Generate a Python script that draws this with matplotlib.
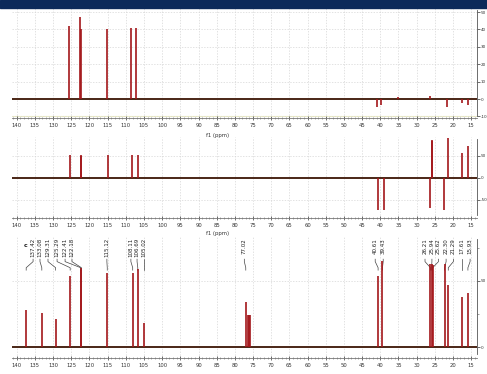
import matplotlib
matplotlib.use('Agg')
import matplotlib.pyplot as plt
from matplotlib.patches import Rectangle
from matplotlib.ticker import MultipleLocator
import matplotlib.transforms as mtransforms

plt.rcParams['axes.unicode_minus'] = False

# peak lists (ppm, intensity)
dept90_ppm = [125.6, 122.6, 122.4, 115.2, 108.6, 107.2, 40.9, 39.8, 35.1, 26.3, 21.7, 17.5, 15.9]
dept90_int = [42, 47, 40, 40, 41, 41, -4.6, -3.5, 1.0, 1.5, -4.6, -2.3, -3.5]

dept135_ppm = [125.3, 122.4, 122.2, 115.0, 108.3, 106.7, 40.5, 39.0, 25.9, 25.7, 26.3, 22.4, 21.3, 17.6, 15.8]
dept135_int = [52, 52, 50, 52, 52, 52, -73, -73, 86, 84, -68, -73, 91, 57, 73]

c13_ppm = [137.4, 133.1, 129.3, 125.3, 122.4, 122.2, 115.1, 108.1, 106.7, 105.0,
           77.0, 76.3, 76.0, 75.7, 40.6, 39.4, 26.2, 25.9, 25.6, 22.3, 21.3, 17.6, 15.9]
c13_int = [28, 26, 21, 54, 60, 58, 56, 56, 59, 18,
           34, 24, 24, 24, 54, 65, 63, 63, 62, 63, 47, 38, 41]

# peak labels on the 13C spectrum
label_text = ['137.42', '133.08', '129.31', '125.29', '122.41', '122.18', '115.12',
              '108.11', '106.69', '105.02', '77.02', '40.61', '39.43',
              '26.21', '25.94', '25.62', '22.30', '21.29', '17.61', '15.93']
label_peak = [137.4, 133.1, 129.3, 125.3, 122.4, 122.2, 115.1,
              108.1, 106.7, 105.0, 77.0, 40.6, 39.4,
              26.2, 25.9, 25.6, 22.3, 21.3, 17.6, 15.9]
# where the label columns sit (ppm)
label_pos = [135.5, 133.6, 131.4, 128.9, 126.7, 124.8, 115.2,
             108.6, 106.9, 105.0, 77.4, 41.4, 39.2,
             27.7, 25.8, 24.0, 21.9, 19.9, 17.6, 15.3]

x_ticks = list(range(140, 10, -5))

W, H = 487, 374
fig = plt.figure(figsize=(W / 100, H / 100), dpi=100)
fig.patches.append(Rectangle((0, 1 - 8 / H), 1, 8 / H, transform=fig.transFigure,
                             color='#0c2a5a', zorder=10))

left, right = 12 / W, 477 / W
XMIN, XMAX = 141.3, 13.4
peak_col = '#a3161a'
base_col = '#4a2616'


def make_panel(top_px, bot_px, ylim, yticks, ybounds):
    ax = fig.add_axes([left, 1 - bot_px / H, right - left, (bot_px - top_px) / H])
    ax.set_xlim(XMIN, XMAX)
    ax.set_ylim(*ylim)
    for s in ['top', 'left']:
        ax.spines[s].set_visible(False)
    ax.spines['bottom'].set_color('#777777')
    ax.spines['bottom'].set_linewidth(0.6)
    ax.spines['right'].set_color('#555555')
    ax.spines['right'].set_linewidth(0.6)
    ax.spines['right'].set_bounds(*ybounds)
    ax.yaxis.tick_right()
    ax.set_yticks(yticks)
    ax.set_yticklabels([str(t) for t in yticks])
    ax.tick_params(axis='y', labelsize=3, length=2, width=0.5, pad=0.8, colors='#333333')
    ax.set_xticks(x_ticks)
    ax.set_xticklabels([str(t) for t in x_ticks])
    ax.xaxis.set_minor_locator(MultipleLocator(1))
    ax.tick_params(axis='x', which='major', labelsize=3.8, length=2.5, width=0.5,
                   direction='inout', pad=2.5, colors='#333333')
    ax.tick_params(axis='x', which='minor', length=1.2, width=0.4, direction='inout',
                   colors='#666666')
    ax.grid(True, which='major', color='#d6d6d6', linestyle=(0, (2, 2)), linewidth=0.5)
    ax.set_facecolor('white')
    return ax


ax1 = make_panel(8, 118, (-10.9, 52.3), [-10, 0, 10, 20, 30, 40, 50], (-10, 51))
ax1.axhline(-9.8, color='#eeeec0', linewidth=0.8, zorder=1)
ax1.axhline(0, color=base_col, linewidth=1.4, zorder=3)
ax1.vlines(dept90_ppm, 0, dept90_int, color=peak_col, linewidth=1.2, zorder=4)

ax2 = make_panel(137, 218, (-91, 93), [-50, 0, 50], (-85, 88))
ax2.axhline(0, color=base_col, linewidth=1.4, zorder=3)
ax2.vlines(dept135_ppm, 0, dept135_int, color=peak_col, linewidth=1.2, zorder=4)

ax3 = make_panel(236, 358, (-8.3, 84), [0, 50], (-5, 82))
ax3.yaxis.set_minor_locator(MultipleLocator(25))
ax3.tick_params(axis='y', which='minor', length=1.5, width=0.4, colors='#555555')
ax3.axhline(0, color=base_col, linewidth=1.4, zorder=3)
ax3.vlines(c13_ppm, 0, c13_int, color=peak_col, linewidth=1.2, zorder=4)

# f1 (ppm) captions
fig.text(218 / W, 1 - 135 / H, 'f1 (ppm)', fontsize=3.8, ha='center', va='center', color='#333333')
fig.text(218 / W, 1 - 233 / H, 'f1 (ppm)', fontsize=3.8, ha='center', va='center', color='#333333')

# peak labels with leader lines
trans = mtransforms.blended_transform_factory(ax3.transData, ax3.transAxes)
for txt, xp, xl in zip(label_text, label_peak, label_pos):
    ax3.text(xl, 0.985, txt, rotation=90, fontsize=4.0, ha='center', va='top',
             transform=trans, color='#222222')
    ax3.plot([xl, xl, xp, xp], [0.81, 0.79, 0.74, 0.72], transform=trans,
             color='#444444', linewidth=0.5, clip_on=False)
ax3.text(137.5, 0.92, 'c', fontsize=4.5, fontweight='bold', transform=trans,
         ha='center', va='center', color='#222222')

fig.savefig('out.png', dpi=100)
